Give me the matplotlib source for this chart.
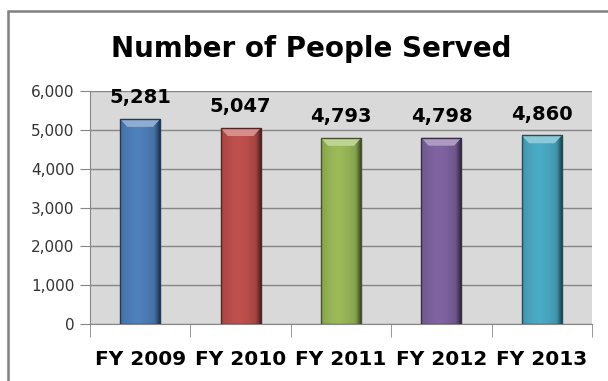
import numpy as np
import matplotlib as mpl
mpl.use('Agg')
import matplotlib.pyplot as plt
from matplotlib.patches import Rectangle, Polygon
from matplotlib.colors import to_rgb

years = ['FY 2009', 'FY 2010', 'FY 2011', 'FY 2012', 'FY 2013']
served = [5281, 5047, 4793, 4798, 4860]
colors = ['#4F81BD', '#C0504D', '#9BBB59', '#8064A2', '#4BACC6']
yticks = [0, 1000, 2000, 3000, 4000, 5000, 6000]

plt.rcParams['font.family'] = ['DejaVu Sans']

fig = plt.figure(figsize=(6.08, 3.81), dpi=100)
# outer chart border (left/top edges visible only)
fig.patches.append(Rectangle((8/608, -0.2), 1.2, (381-11)/381 + 0.2, transform=fig.transFigure,
                             fill=False, ec='#808080', lw=1.8))
ax = fig.add_axes([90/608, 1-324/381, (592-90)/608, (324-91)/381])
ax.set_facecolor('#D9D9D9')

x = np.arange(len(years))
bars = ax.bar(x, served, width=0.4, color=colors, zorder=3, lw=0)
ax.set_xlim(-0.5, len(years)-0.5)
ax.set_ylim(0, 6000)

# bevel look: horizontal shading + lighter top cap
grad = np.linspace(0, 1, 100)
shade = 1 - 0.55*np.abs(grad - 0.42)**1.6 - 0.45*(grad > 0.85)*(grad - 0.85)/0.15
for b, c in zip(bars, colors):
    base = np.array(to_rgb(c))
    img = np.clip(base[None, None, :] * shade[None, :, None], 0, 1)
    x0, w, h = b.get_x(), b.get_width(), b.get_height()
    im = ax.imshow(img, extent=(x0, x0 + w, 0, h), aspect='auto', zorder=4, interpolation='bilinear')
    im.set_clip_path(b)
    cap = 6000 * 8 / 233
    light = np.clip(base + (1 - base) * 0.35, 0, 1)
    ax.add_patch(Polygon([(x0, h), (x0 + w, h), (x0 + w*0.82, h - cap), (x0 + w*0.18, h - cap)],
                         closed=True, fc=light, ec='none', zorder=5))
    ax.add_patch(Rectangle((x0, 0), w, h, fill=False, ec=base*0.45, lw=1, zorder=6))
    ax.text(b.get_x() + w/2, h + 300, f'{int(h):,}', ha='center', va='bottom',
            fontsize=14, fontweight='bold', color='black', zorder=7, clip_on=False)

ax.set_yticks(yticks)
ax.set_yticklabels([f'{v:,}' for v in yticks], fontsize=11, color='#333333')
ax.yaxis.grid(True, color='#868686', lw=1, zorder=1)
ax.set_axisbelow(True)
ax.tick_params(axis='y', length=7, color='#868686', pad=4)

ax.set_xticks(x)
ax.set_xticklabels(years, fontsize=14.5, fontweight='bold')
ax.tick_params(axis='x', length=0, pad=19)
ax.set_xticks(np.arange(-0.5, len(years)), minor=True)
ax.tick_params(axis='x', which='minor', length=9, color='#868686')

for s in ['top', 'right']:
    ax.spines[s].set_visible(False)
ax.spines['left'].set_color('#868686')
ax.spines['bottom'].set_color('#868686')
ax.spines['left'].set_bounds(0, 6000)

fig.text(311/608, 1-57/381, 'Number of People Served', ha='center', va='baseline',
         fontsize=20, fontweight='bold')

fig.savefig('out.png', dpi=100)
